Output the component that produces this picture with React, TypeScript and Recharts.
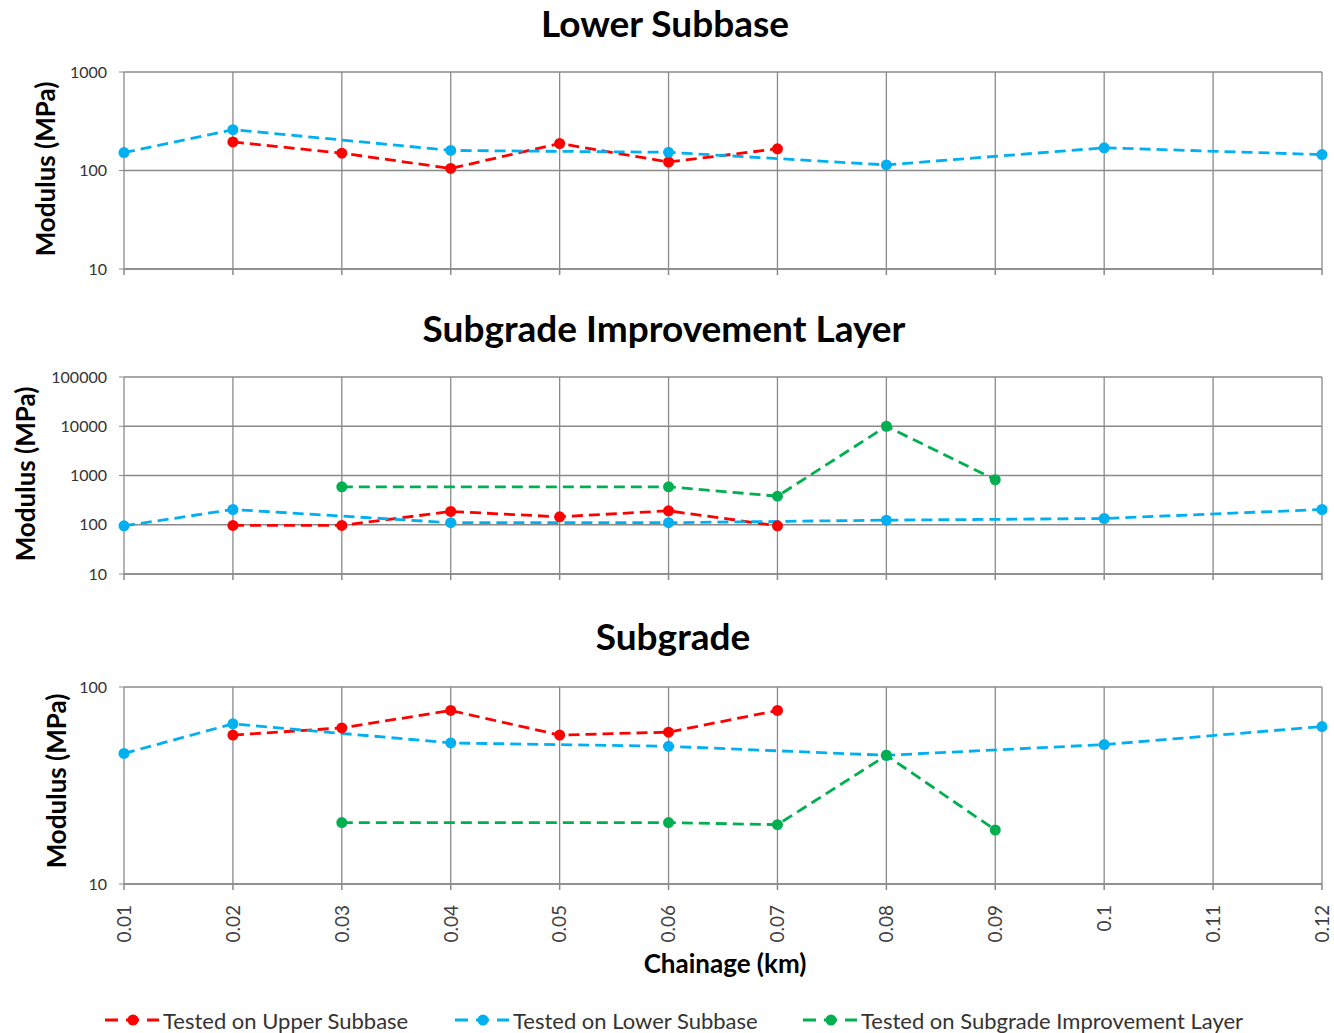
import { LineChart, Line, XAxis, YAxis, CartesianGrid } from "recharts";

const chainage = ["0.01", "0.02", "0.03", "0.04", "0.05", "0.06", "0.07", "0.08", "0.09", "0.1", "0.11", "0.12"];

// Lower Subbase panel
const lsbUpper = [null, 195, 150, 105, 188, 122, 166, null, null, null, null, null];
const lsbLower = [152, 260, null, 160, null, 153, null, 114, null, 170, null, 145];

// Subgrade Improvement Layer panel
const silUpper = [null, 97, 97, 186, 145, 192, 95, null, null, null, null, null];
const silLower = [95, 204, null, 110, null, 110, null, 124, null, 134, null, 204];
const silSil = [null, null, 590, null, null, 590, 380, 10000, 820, null, null, null];

// Subgrade panel
const sgUpper = [null, 57, 62, 76, 57, 59, 76, null, null, null, null, null];
const sgLower = [46, 65, null, 52, null, 50, null, 45, null, 51, null, 63];
const sgSil = [null, null, 20.5, null, null, 20.5, 20, 45, 18.8, null, null, null];

const RED = "#ff0000";
const BLUE = "#00b0f0";
const GREEN = "#00b050";
const GRID = "#8a8a8a";
const FONT = "Lato, 'Liberation Sans', sans-serif";

const build = (up: (number | null)[], low: (number | null)[], sil?: (number | null)[]) =>
  chainage.map((c, i) => ({ c, up: up[i], low: low[i], sil: sil ? sil[i] : null }));

const dash = "11 6";

function series(withSil: boolean) {
  const list = [
    <Line key="up" dataKey="up" stroke={RED} strokeWidth={2.8} strokeDasharray={dash} connectNulls
      dot={{ r: 5.5, fill: RED, stroke: RED, strokeWidth: 0, strokeDasharray: "" }} isAnimationActive={false} />,
    <Line key="low" dataKey="low" stroke={BLUE} strokeWidth={2.8} strokeDasharray={dash} connectNulls
      dot={{ r: 5.5, fill: BLUE, stroke: BLUE, strokeWidth: 0, strokeDasharray: "" }} isAnimationActive={false} />,
  ];
  if (withSil) {
    list.push(
      <Line key="sil" dataKey="sil" stroke={GREEN} strokeWidth={2.8} strokeDasharray={dash} connectNulls
        dot={{ r: 5.5, fill: GREEN, stroke: GREEN, strokeWidth: 0, strokeDasharray: "" }} isAnimationActive={false} />
    );
  }
  return list;
}

const XTick = (props: any) => {
  const { x, y, payload } = props;
  return (
    <g transform={`translate(${x},${y})`}>
      <text transform="rotate(-90)" textAnchor="end" dy="0.36em" fill="#404040" fontSize={19} fontFamily={FONT}>
        {payload.value}
      </text>
    </g>
  );
};

const NoTick = () => <g />;

function Panel(props: {
  top: number;
  data: any[];
  ticks: number[];
  withSil: boolean;
  labels: boolean;
}) {
  const { top, data, ticks, withSil, labels } = props;
  const xh = labels ? 75 : 10;
  return (
    <div style={{ position: "absolute", left: 0, top }}>
      <LineChart width={1334} height={12 + 197 + xh} data={data} margin={{ top: 12, right: 12, bottom: 0, left: 64 }}>
        <CartesianGrid stroke={GRID} strokeWidth={1.3} />
        <XAxis dataKey="c" height={xh} stroke={GRID} strokeWidth={1.5} tickSize={6} tickMargin={15}
          tick={labels ? <XTick /> : <NoTick />} interval={0} />
        <YAxis scale="log" type="number" domain={[ticks[0], ticks[ticks.length - 1]]} ticks={ticks}
          allowDataOverflow width={60} stroke={GRID} tickSize={5} tickMargin={12} axisLine={false}
          tick={{ fill: "#333", fontSize: 16, fontFamily: FONT }} interval={0} />
        {series(withSil)}
      </LineChart>
    </div>
  );
}

const titleStyle = (top: number, cx: number): React.CSSProperties => ({
  position: "absolute", top, left: cx - 400, width: 800, textAlign: "center",
  fontFamily: FONT, fontWeight: 700, fontSize: 37, color: "#000", lineHeight: "44px",
});

const yLabelStyle = (cx: number, cy: number): React.CSSProperties => ({
  position: "absolute", left: cx - 150, top: cy - 15, width: 300, height: 30, lineHeight: "30px",
  textAlign: "center", transform: "rotate(-90deg)", fontFamily: FONT, fontWeight: 700,
  fontSize: 26, color: "#000",
});

const legendItems = [
  { name: "Tested on Upper Subbase", color: RED, x: 105 },
  { name: "Tested on Lower Subbase", color: BLUE, x: 455 },
  { name: "Tested on Subgrade Improvement Layer", color: GREEN, x: 803 },
];

export default function App() {
  return (
    <div style={{ position: "absolute", left: 0, top: 0, width: 1334, height: 1033, background: "#fff", overflow: "hidden" }}>
      <div style={titleStyle(1, 665)}>Lower Subbase</div>
      <div style={titleStyle(306, 664)}>Subgrade Improvement Layer</div>
      <div style={titleStyle(614, 673)}>Subgrade</div>

      <Panel top={60} data={build(lsbUpper, lsbLower)} ticks={[10, 100, 1000]} withSil={false} labels={false} />
      <Panel top={365} data={build(silUpper, silLower, silSil)} ticks={[10, 100, 1000, 10000, 100000]} withSil labels={false} />
      <Panel top={675} data={build(sgUpper, sgLower, sgSil)} ticks={[10, 100]} withSil labels />

      <div style={yLabelStyle(45, 169)}>Modulus (MPa)</div>
      <div style={yLabelStyle(25, 474)}>Modulus (MPa)</div>
      <div style={yLabelStyle(56, 781)}>Modulus (MPa)</div>

      <div style={{ position: "absolute", left: 525, width: 400, top: 947, textAlign: "center", fontFamily: FONT, fontWeight: 700, fontSize: 26, lineHeight: "32px" }}>
        Chainage (km)
      </div>

      {legendItems.map((it) => (
        <div key={it.name} style={{ position: "absolute", left: it.x, top: 1005, height: 30, display: "flex", alignItems: "center", fontFamily: FONT, fontSize: 22, color: "#333" }}>
          <svg width={54} height={16} style={{ marginRight: 4 }}>
            <line x1={0} y1={8} x2={54} y2={8} stroke={it.color} strokeWidth={3} strokeDasharray="13 8" />
            <circle cx={28} cy={8} r={5.5} fill={it.color} />
          </svg>
          <span>{it.name}</span>
        </div>
      ))}
    </div>
  );
}
